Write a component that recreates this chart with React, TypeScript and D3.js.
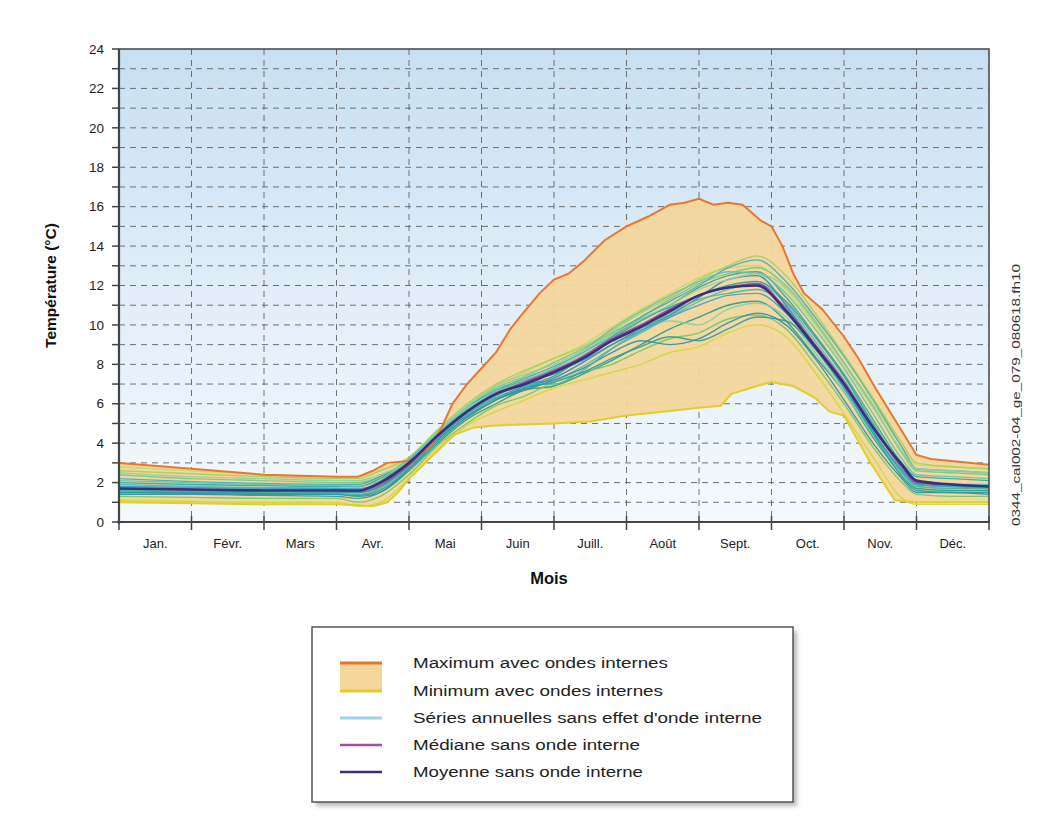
import React from "react";
import * as d3 from "d3";

// ---------- DATA ----------
const months = ["Jan.", "Févr.", "Mars", "Avr.", "Mai", "Juin", "Juill.", "Août", "Sept.", "Oct.", "Nov.", "Déc."];
const yTicks = [0, 2, 4, 6, 8, 10, 12, 14, 16, 18, 20, 22, 24];

// Envelope: maximum with internal waves (month position, °C)
const maxX = [0, 1, 2, 3, 3.3, 3.5, 3.7, 4.0, 4.3, 4.45, 4.6, 4.8, 5.0, 5.2, 5.4, 5.55, 5.8, 6.0, 6.2, 6.4, 6.7, 7.0, 7.3, 7.6, 7.8, 8.0, 8.2, 8.4, 8.6, 8.85, 9.0, 9.15, 9.3, 9.45, 9.7, 10.0, 10.2, 10.4, 10.6, 10.8, 11.0, 11.2, 12.0];
const maxV = [3.0, 2.7, 2.4, 2.3, 2.3, 2.6, 3.0, 3.1, 3.8, 4.8, 6.0, 7.0, 7.8, 8.6, 9.8, 10.5, 11.6, 12.3, 12.6, 13.2, 14.3, 15.0, 15.5, 16.1, 16.2, 16.4, 16.1, 16.2, 16.1, 15.3, 15.0, 14.0, 12.6, 11.6, 10.8, 9.4, 8.3, 7.0, 5.8, 4.6, 3.4, 3.2, 2.9];

// Envelope: minimum with internal waves
const minX = [0, 1, 2, 3, 3.3, 3.5, 3.7, 3.85, 4.0, 4.3, 4.6, 4.9, 5.2, 6.0, 6.5, 7.0, 7.5, 8.0, 8.3, 8.45, 8.8, 9.0, 9.3, 9.6, 9.8, 10.0, 10.35, 10.7, 11.0, 12.0];
const minV = [1.0, 0.95, 0.9, 0.9, 0.85, 0.8, 1.0, 1.5, 2.2, 3.3, 4.4, 4.8, 4.9, 5.0, 5.1, 5.4, 5.6, 5.8, 5.9, 6.5, 6.9, 7.1, 6.9, 6.3, 5.6, 5.4, 3.1, 1.1, 1.0, 1.0];

// Knots (month positions) for annual series, median and mean
const knots = [0, 1, 2, 3, 3.3, 3.6, 4, 4.4, 4.8, 5.2, 5.6, 6, 6.4, 6.8, 7.2, 7.6, 8, 8.4, 8.8, 9.2, 9.6, 10, 10.4, 10.8, 11, 11.5, 12];

const meanV = [1.7, 1.65, 1.6, 1.6, 1.6, 2.0, 3.0, 4.4, 5.6, 6.5, 7.0, 7.6, 8.3, 9.2, 9.9, 10.7, 11.5, 11.9, 12.0, 10.7, 8.9, 7.0, 4.8, 2.9, 2.1, 1.9, 1.8];
const medianV = [1.7, 1.65, 1.6, 1.6, 1.55, 1.9, 2.9, 4.4, 5.6, 6.5, 7.1, 7.7, 8.4, 9.3, 10.0, 10.8, 11.5, 11.9, 12.1, 10.8, 9.0, 7.1, 4.8, 2.8, 2.0, 1.9, 1.8];

// Annual series without internal-wave effect
const serie01 = [2.8, 2.6, 2.4, 2.3, 2.3, 2.6, 3.2, 4.6, 5.9, 6.9, 7.6, 8.3, 9.0, 9.9, 10.8, 11.6, 12.4, 12.9, 13.0, 11.8, 10.0, 8.0, 6.0, 3.8, 2.9, 2.8, 2.7];
const serie02 = [2.4, 2.2, 2.1, 2.0, 2.0, 2.3, 3.1, 4.5, 5.8, 6.8, 7.4, 8.1, 8.8, 9.6, 10.4, 11.3, 12.1, 12.6, 12.9, 12.0, 10.2, 8.1, 5.9, 3.5, 2.6, 2.5, 2.4];
const serie03 = [2.0, 1.9, 1.85, 1.8, 1.8, 2.2, 3.0, 4.4, 5.6, 6.6, 7.2, 7.5, 8.3, 9.3, 10.2, 11.0, 11.9, 12.5, 12.7, 11.4, 9.5, 7.5, 5.2, 3.0, 2.3, 2.2, 2.1];
const serie04 = [1.9, 1.8, 1.75, 1.7, 1.6, 1.9, 2.9, 4.2, 5.5, 6.4, 7.0, 7.2, 7.9, 8.8, 9.6, 10.4, 11.2, 11.8, 12.1, 11.1, 9.2, 7.2, 4.9, 2.7, 2.0, 1.9, 1.9];
const serie05 = [1.6, 1.55, 1.5, 1.5, 1.5, 1.8, 2.8, 4.3, 5.4, 6.2, 6.8, 7.3, 8.1, 9.0, 9.8, 10.5, 11.4, 12.3, 12.5, 11.0, 9.0, 7.0, 4.6, 2.6, 1.9, 1.8, 1.7];
const serie06 = [1.5, 1.45, 1.4, 1.4, 1.3, 1.5, 2.6, 4.0, 5.2, 6.0, 6.7, 6.9, 7.5, 8.2, 9.0, 9.8, 10.4, 11.0, 11.2, 10.2, 8.4, 6.6, 4.3, 2.4, 1.7, 1.6, 1.6];
const serie07 = [1.3, 1.25, 1.2, 1.2, 1.0, 1.3, 2.4, 3.9, 5.0, 5.9, 6.4, 7.1, 7.6, 8.0, 8.7, 9.3, 9.6, 10.3, 10.5, 9.8, 8.0, 6.0, 3.8, 2.0, 1.4, 1.3, 1.3];
const serie08 = [1.1, 1.05, 1.0, 1.0, 0.8, 1.0, 2.2, 3.6, 4.9, 5.6, 6.2, 6.8, 7.2, 7.6, 8.0, 8.6, 8.9, 9.6, 10.0, 9.4, 7.6, 5.5, 3.3, 1.2, 0.9, 0.9, 0.9];
const serie09 = [2.2, 2.05, 1.95, 1.9, 1.9, 2.3, 3.2, 4.6, 5.8, 6.7, 7.3, 7.9, 8.6, 9.5, 10.4, 11.2, 12.0, 12.9, 13.3, 12.2, 10.4, 8.4, 6.2, 3.8, 2.7, 2.6, 2.5];
const serie10 = [1.7, 1.65, 1.6, 1.6, 1.5, 1.8, 2.9, 4.4, 5.5, 6.3, 6.9, 7.4, 8.4, 9.4, 10.3, 10.9, 11.5, 12.0, 12.2, 11.2, 9.4, 7.4, 5.0, 2.8, 2.0, 1.9, 1.8];
const serie11 = [1.8, 1.7, 1.65, 1.6, 1.6, 1.9, 3.0, 4.5, 5.8, 6.5, 7.1, 7.8, 8.5, 9.2, 9.8, 10.2, 10.0, 10.8, 11.1, 10.4, 8.6, 6.6, 4.4, 2.4, 1.8, 1.7, 1.7];
const serie12 = [1.4, 1.4, 1.35, 1.3, 1.2, 1.5, 2.7, 4.2, 5.3, 6.2, 6.7, 7.2, 7.8, 8.6, 9.2, 9.0, 9.3, 10.1, 10.6, 10.0, 8.3, 6.2, 4.0, 2.2, 1.5, 1.5, 1.4];
const serie13 = [2.6, 2.45, 2.3, 2.2, 2.2, 2.6, 3.3, 4.7, 6.0, 7.0, 7.7, 8.3, 8.9, 9.7, 10.6, 11.4, 12.3, 13.0, 13.5, 12.5, 10.6, 8.5, 6.3, 4.0, 3.0, 2.8, 2.7];
const serie14 = [1.6, 1.55, 1.5, 1.45, 1.4, 1.7, 2.8, 4.3, 5.5, 6.4, 7.0, 7.0, 7.7, 8.8, 9.7, 10.6, 11.3, 11.6, 11.8, 10.9, 9.0, 6.9, 4.6, 2.5, 1.8, 1.7, 1.7];
const serie15 = [2.1, 2.0, 1.9, 1.85, 1.8, 2.1, 3.1, 4.5, 5.7, 6.6, 7.2, 7.8, 8.7, 9.8, 10.7, 11.5, 12.2, 12.7, 12.6, 11.6, 9.8, 7.8, 5.5, 3.2, 2.4, 2.3, 2.2];
const serie16 = [1.5, 1.5, 1.45, 1.4, 1.35, 1.6, 2.7, 4.1, 5.3, 6.2, 6.8, 7.1, 7.6, 8.3, 8.9, 9.4, 9.2, 9.8, 10.4, 10.2, 8.8, 6.8, 4.5, 2.3, 1.6, 1.5, 1.5];
const serie17 = [2.5, 2.3, 2.2, 2.1, 2.1, 2.4, 3.1, 4.6, 5.9, 6.9, 7.5, 8.0, 8.7, 9.5, 10.3, 11.0, 11.8, 12.3, 12.6, 11.9, 10.1, 8.0, 5.8, 3.6, 2.7, 2.6, 2.5];
const serie18 = [1.8, 1.75, 1.7, 1.7, 1.7, 2.0, 3.0, 4.4, 5.6, 6.5, 7.1, 7.6, 8.2, 9.0, 9.7, 10.4, 11.0, 11.5, 11.6, 10.6, 8.8, 6.8, 4.6, 2.6, 1.9, 1.8, 1.8];

const annualSeries = [serie01, serie02, serie03, serie04, serie05, serie06, serie07, serie08, serie09, serie10, serie11, serie12, serie13, serie14, serie15, serie16, serie17, serie18];
const seriesColors = ["#c5d96a", "#7cc47f", "#2fa89a", "#45bcc8", "#2f86b6", "#1f9e89", "#6cc96a", "#c9dc3a", "#3aaec2", "#26a0a8", "#7dd3a8", "#2c8fb0", "#a3cf5e", "#48b5a0", "#5fc3b0", "#2b9aa0", "#8fd0a0", "#3e9fc4"];

const legendLabels = [
  "Maximum avec ondes internes",
  "Minimum avec ondes internes",
  "Séries annuelles sans effet d'onde interne",
  "Médiane sans onde interne",
  "Moyenne sans onde interne",
];

// ---------- LAYOUT ----------
const W = 1060;
const H = 835;
const left = 119, right = 989, top = 49, bottom = 522;

export default function App() {
  const x = d3.scaleLinear().domain([0, 12]).range([left, right]);
  const y = d3.scaleLinear().domain([0, 24]).range([bottom, top]);

  const smooth = d3.line<[number, number]>().x(d => x(d[0])).y(d => y(d[1])).curve(d3.curveMonotoneX);
  const lin = d3.line<[number, number]>().x(d => x(d[0])).y(d => y(d[1]));

  const maxPts: [number, number][] = maxX.map((v, i) => [v, maxV[i]]);
  const minPts: [number, number][] = minX.map((v, i) => [v, minV[i]]);
  const envelope = lin(maxPts.concat(minPts.slice().reverse())) + "Z";

  const toPts = (vals: number[]) => knots.map((k, i) => [k, vals[i]] as [number, number]);

  const gridVals = d3.range(1, 24);
  const monthBounds = d3.range(0, 13);

  const legendRows = [663, 691, 718, 745, 772];
  const legendWidths = [255, 250, 349, 227, 230];

  return (
    <svg width={W} height={H} style={{ position: "absolute", left: 0, top: 0, background: "#fff" }} fontFamily="Liberation Sans, Arial, sans-serif">
      <defs>
        <linearGradient id="bg" x1="0" y1="0" x2="0" y2="1">
          <stop offset="0%" stopColor="#c6e0f2" />
          <stop offset="50%" stopColor="#e0edf8" />
          <stop offset="100%" stopColor="#f4f9fd" />
        </linearGradient>
        <clipPath id="plotClip">
          <rect x={left} y={top} width={right - left} height={bottom - top} />
        </clipPath>
        <filter id="shadow" x="-10%" y="-10%" width="120%" height="130%">
          <feGaussianBlur stdDeviation="2" />
        </filter>
      </defs>

      {/* plot background */}
      <rect x={left} y={top} width={right - left} height={bottom - top} fill="url(#bg)" />

      {/* grid */}
      {gridVals.map(v => (
        <line key={"h" + v} x1={left} x2={right} y1={y(v)} y2={y(v)} stroke="#5a5a5a" strokeWidth={1} strokeDasharray="6,5" opacity={0.85} />
      ))}
      {monthBounds.slice(1, 12).map(m => (
        <line key={"v" + m} x1={x(m)} x2={x(m)} y1={top} y2={bottom} stroke="#5a5a5a" strokeWidth={1} strokeDasharray="6,5" opacity={0.85} />
      ))}

      <g clipPath="url(#plotClip)">
        {/* envelope fill */}
        <path d={envelope} fill="#f4d69c" stroke="none" opacity={0.95} />
        {/* annual series */}
        {annualSeries.map((s, i) => (
          <path key={"s" + i} d={smooth(toPts(s)) || ""} fill="none" stroke={seriesColors[i]} strokeWidth={1.4} opacity={0.9} />
        ))}
        {/* envelope lines */}
        <path d={lin(maxPts) || ""} fill="none" stroke="#e8772e" strokeWidth={2} />
        <path d={lin(minPts) || ""} fill="none" stroke="#e3cd2c" strokeWidth={2} />
        {/* median and mean */}
        <path d={smooth(toPts(medianV)) || ""} fill="none" stroke="#a0509e" strokeWidth={1.8} />
        <path d={smooth(toPts(meanV)) || ""} fill="none" stroke="#37307e" strokeWidth={2.6} />
      </g>

      {/* frame */}
      <rect x={left} y={top} width={right - left} height={bottom - top} fill="none" stroke="#444" strokeWidth={1.5} />
      <line x1={left} x2={left} y1={top} y2={bottom + 2} stroke="#444" strokeWidth={2.2} />
      <line x1={left - 2} x2={right} y1={bottom} y2={bottom} stroke="#444" strokeWidth={2.2} />

      {/* y ticks */}
      {d3.range(0, 25).map(v => (
        <line key={"yt" + v} x1={left - 7} x2={left} y1={y(v)} y2={y(v)} stroke="#444" strokeWidth={1.5} />
      ))}
      {yTicks.map(v => (
        <text key={"yl" + v} x={104} y={y(v)} dy="0.35em" textAnchor="end" fontSize={13.5} fill="#222">{v}</text>
      ))}

      {/* x ticks */}
      {monthBounds.map(m => (
        <line key={"xt" + m} x1={x(m)} x2={x(m)} y1={bottom - 6} y2={bottom + 8} stroke="#444" strokeWidth={1.5} />
      ))}
      {months.map((mName, i) => (
        <text key={"ml" + i} x={x(i + 0.5)} y={548} textAnchor="middle" fontSize={13} fill="#222">{mName}</text>
      ))}

      {/* axis titles */}
      <text x={549} y={584} textAnchor="middle" fontSize={16.5} fontWeight="bold" fill="#111">Mois</text>
      <text transform={`translate(56,${(top + bottom) / 2}) rotate(-90)`} textAnchor="middle" fontSize={15.5} fontWeight="bold" fill="#111">Température (°C)</text>

      {/* side reference code */}
      <text transform="translate(1020,395) rotate(-90)" textAnchor="middle" fontSize={10} fill="#333" textLength={262} lengthAdjust="spacingAndGlyphs">0344_cal002-04_ge_079_080618.fh10</text>

      {/* legend */}
      <rect x={316} y={631} width={481} height={175} fill="#999" filter="url(#shadow)" opacity={0.7} />
      <rect x={312} y={627} width={481} height={175} fill="#fff" stroke="#555" strokeWidth={1.5} />
      <rect x={340} y={legendRows[0]} width={42} height={legendRows[1] - legendRows[0]} fill="#f4d69c" />
      <line x1={340} x2={382} y1={legendRows[0]} y2={legendRows[0]} stroke="#e8772e" strokeWidth={3} />
      <line x1={340} x2={382} y1={legendRows[1]} y2={legendRows[1]} stroke="#e3cd2c" strokeWidth={3} />
      <line x1={340} x2={382} y1={legendRows[2]} y2={legendRows[2]} stroke="#9fd3ea" strokeWidth={3} />
      <line x1={340} x2={382} y1={legendRows[3]} y2={legendRows[3]} stroke="#a0509e" strokeWidth={2.5} />
      <line x1={340} x2={382} y1={legendRows[4]} y2={legendRows[4]} stroke="#37307e" strokeWidth={2.5} />
      {legendLabels.map((lab, i) => (
        <text key={"lg" + i} x={413} y={legendRows[i]} dy="0.35em" fontSize={14} fill="#222" textLength={legendWidths[i]} lengthAdjust="spacingAndGlyphs">{lab}</text>
      ))}
    </svg>
  );
}
